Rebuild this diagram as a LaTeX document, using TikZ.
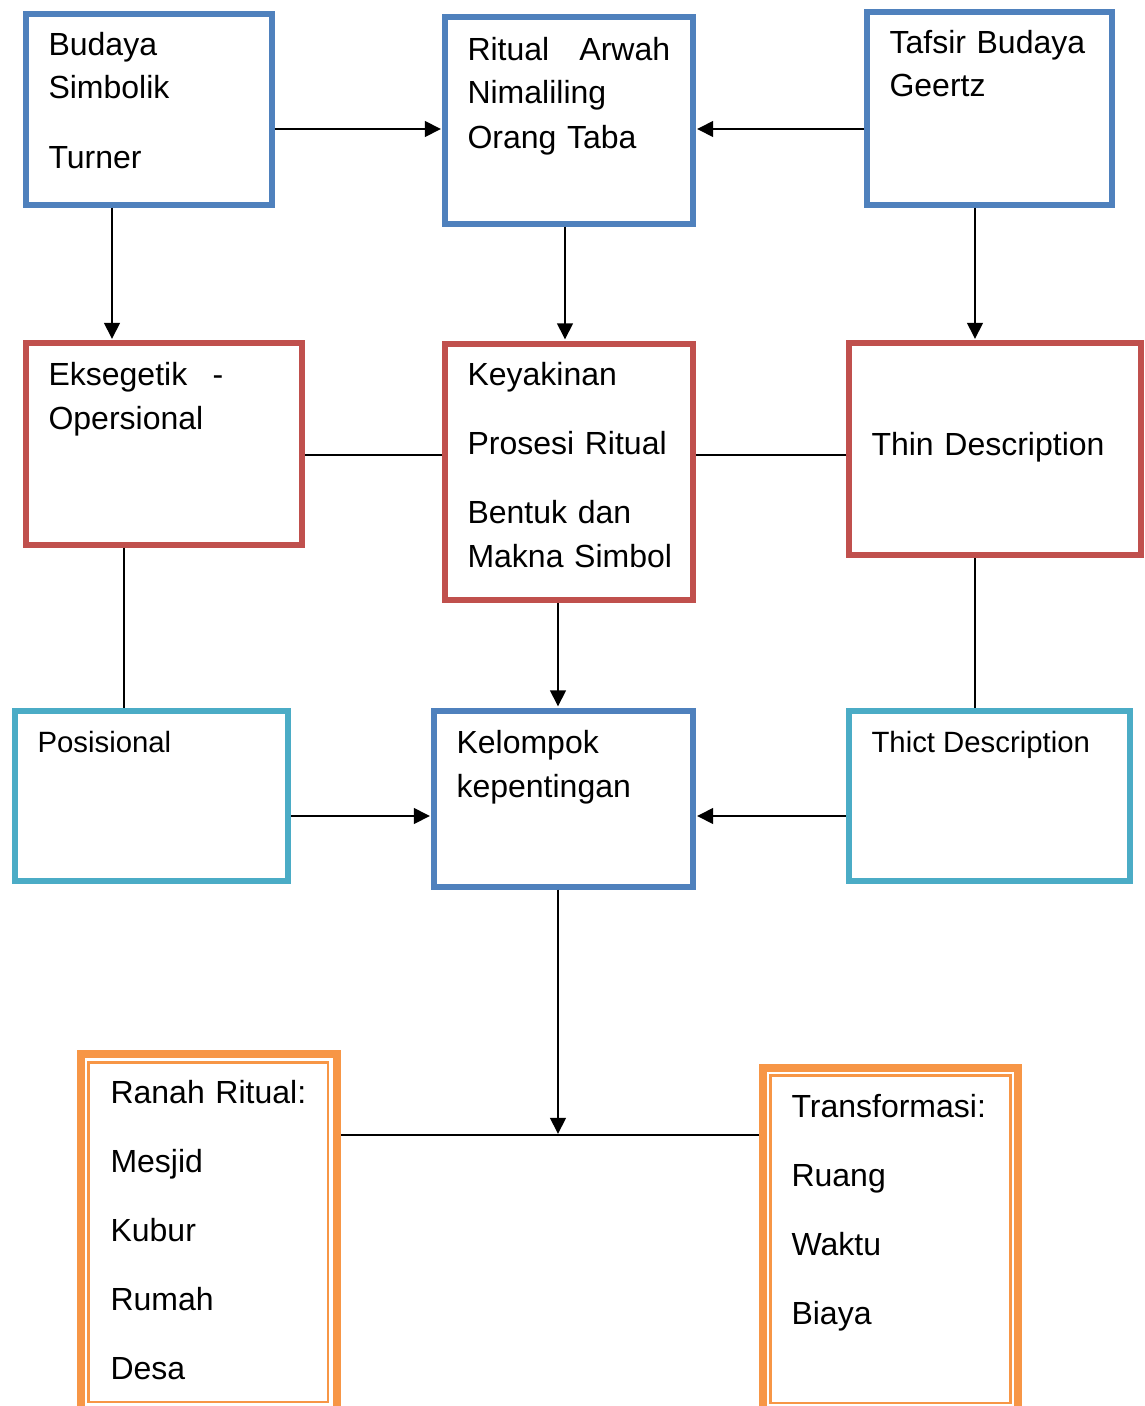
\documentclass[tikz,border=0pt]{standalone}
\usepackage{fontspec}
\setmainfont{Liberation Sans}
\usetikzlibrary{arrows.meta}
\begin{document}
\begin{tikzpicture}[x=0.375pt,y=-0.375pt,
  box/.style={draw=#1,line width=2.25pt,rectangle,inner sep=0pt},
  sz/.style 2 args={minimum width=#1*0.375pt,minimum height=#2*0.375pt},
  txt/.style={inner sep=0pt,anchor=base west,align=left,text width=100pt,
    font=\fontsize{12}{16.5}\selectfont},
  small/.style={inner sep=0pt,anchor=base west,font=\fontsize{11}{15}\selectfont},
  arr/.style={line width=1pt,-{Triangle[length=6pt,width=5.8pt]},shorten >=0.4pt},
  link/.style={line width=1pt}]
  \definecolor{tblue}{RGB}{79,129,189}
  \definecolor{tred}{RGB}{192,80,77}
  \definecolor{tcyan}{RGB}{75,172,198}
  \definecolor{torange}{RGB}{247,150,70}

  \useasboundingbox (0,0) rectangle (1144,1406);
  \clip (0,0) rectangle (1144,1406);

  % ---- top row ----
  \node[box=tblue,sz={245.5}{190.5}] (bud) at (148.75,109.25) {};
  \node[box=tblue,sz={248}{207}] (rit) at (569,120) {};
  \node[box=tblue,sz={245}{193}] (taf) at (989.5,108) {};
  \node[txt] (budT) at (48,55) {Budaya\\Simbolik\\[9.4pt]Turner};
  \node[txt] (ritT) at (467,60) {\hbox to 76pt{Ritual\hfill Arwah}\\Nimaliling\\Orang Taba};
  \node[txt] (tafT) at (889,53) {Tafsir Budaya\\Geertz};

  % ---- middle row ----
  \node[box=tred,sz={276}{201.5}] (eks) at (164,443.75) {};
  \node[box=tred,sz={248}{256.5}] (key) at (569,471.75) {};
  \node[box=tred,sz={292}{212}] (thin) at (995,449) {};
  \node[txt] (eksT) at (48,385) {\hbox to 65.5pt{Eksegetik\hfill -}\\Opersional};
  \node[txt] (keyT) at (467,385) {Keyakinan\\[9.4pt]Prosesi Ritual\\[9.4pt]Bentuk dan\\Makna Simbol};
  \node[txt] (thinT) at (871,455) {Thin Description};

  % ---- lower row ----
  \node[box=tcyan,sz={273.5}{170.5}] (pos) at (151.25,795.75) {};
  \node[box=tblue,sz={259}{176}] (kel) at (563.5,798.5) {};
  \node[box=tcyan,sz={280.5}{170}] (tht) at (989.25,796) {};
  \node[small] (posT) at (37,752) {Posisional};
  \node[txt] (kelT) at (456,753) {Kelompok\\kepentingan};
  \node[small] (thtT) at (871,752) {Thict Description};

  % ---- bottom boxes (thick-thin double border) ----
  \node[draw=torange,line width=3pt,inner sep=0pt,sz={256}{358}] (ranah) at (209,1233) {};
  \node[draw=torange,line width=0.9pt,inner sep=0pt,sz={239.5}{339.5}] (ranahIn) at (208.25,1232.25) {};
  \node[draw=torange,line width=3pt,inner sep=0pt,sz={254.5}{344.5}] (trans) at (890.25,1239.75) {};
  \node[draw=torange,line width=0.9pt,inner sep=0pt,sz={240}{327.5}] (transIn) at (890.5,1239.25) {};
  \node[txt] (ranahT) at (110,1103) {Ranah Ritual:\\[9.4pt]Mesjid\\[9.4pt]Kubur\\[9.4pt]Rumah\\[9.4pt]Desa};
  \node[txt] (transT) at (791,1117) {Transformasi:\\[9.4pt]Ruang\\[9.4pt]Waktu\\[9.4pt]Biaya};

  % ---- connectors ----
  \draw[arr] (bud.east |- 0,129) -- (rit.west |- 0,129);
  \draw[arr] (taf.west |- 0,129) -- (rit.east |- 0,129);
  \draw[arr] (bud.south -| 112,0) -- (eks.north -| 112,0);
  \draw[arr] (rit.south -| 565,0) -- (key.north -| 565,0);
  \draw[arr] (taf.south -| 975,0) -- (thin.north -| 975,0);
  \draw[link] (eks.east |- 0,455) -- (key.west |- 0,455);
  \draw[link] (key.east |- 0,455) -- (thin.west |- 0,455);
  \draw[link] (eks.south -| 124,0) -- (pos.north -| 124,0);
  \draw[arr] (key.south -| 558,0) -- (kel.north -| 558,0);
  \draw[link] (thin.south -| 975,0) -- (tht.north -| 975,0);
  \draw[arr] (pos.east |- 0,816) -- (kel.west |- 0,816);
  \draw[arr] (tht.west |- 0,816) -- (kel.east |- 0,816);
  \coordinate (jn) at (558,1135);
  \draw[link] (ranah.east |- jn) -- (trans.west |- jn);
  \draw[arr] (kel.south -| jn) -- (jn);
\end{tikzpicture}
\end{document}
